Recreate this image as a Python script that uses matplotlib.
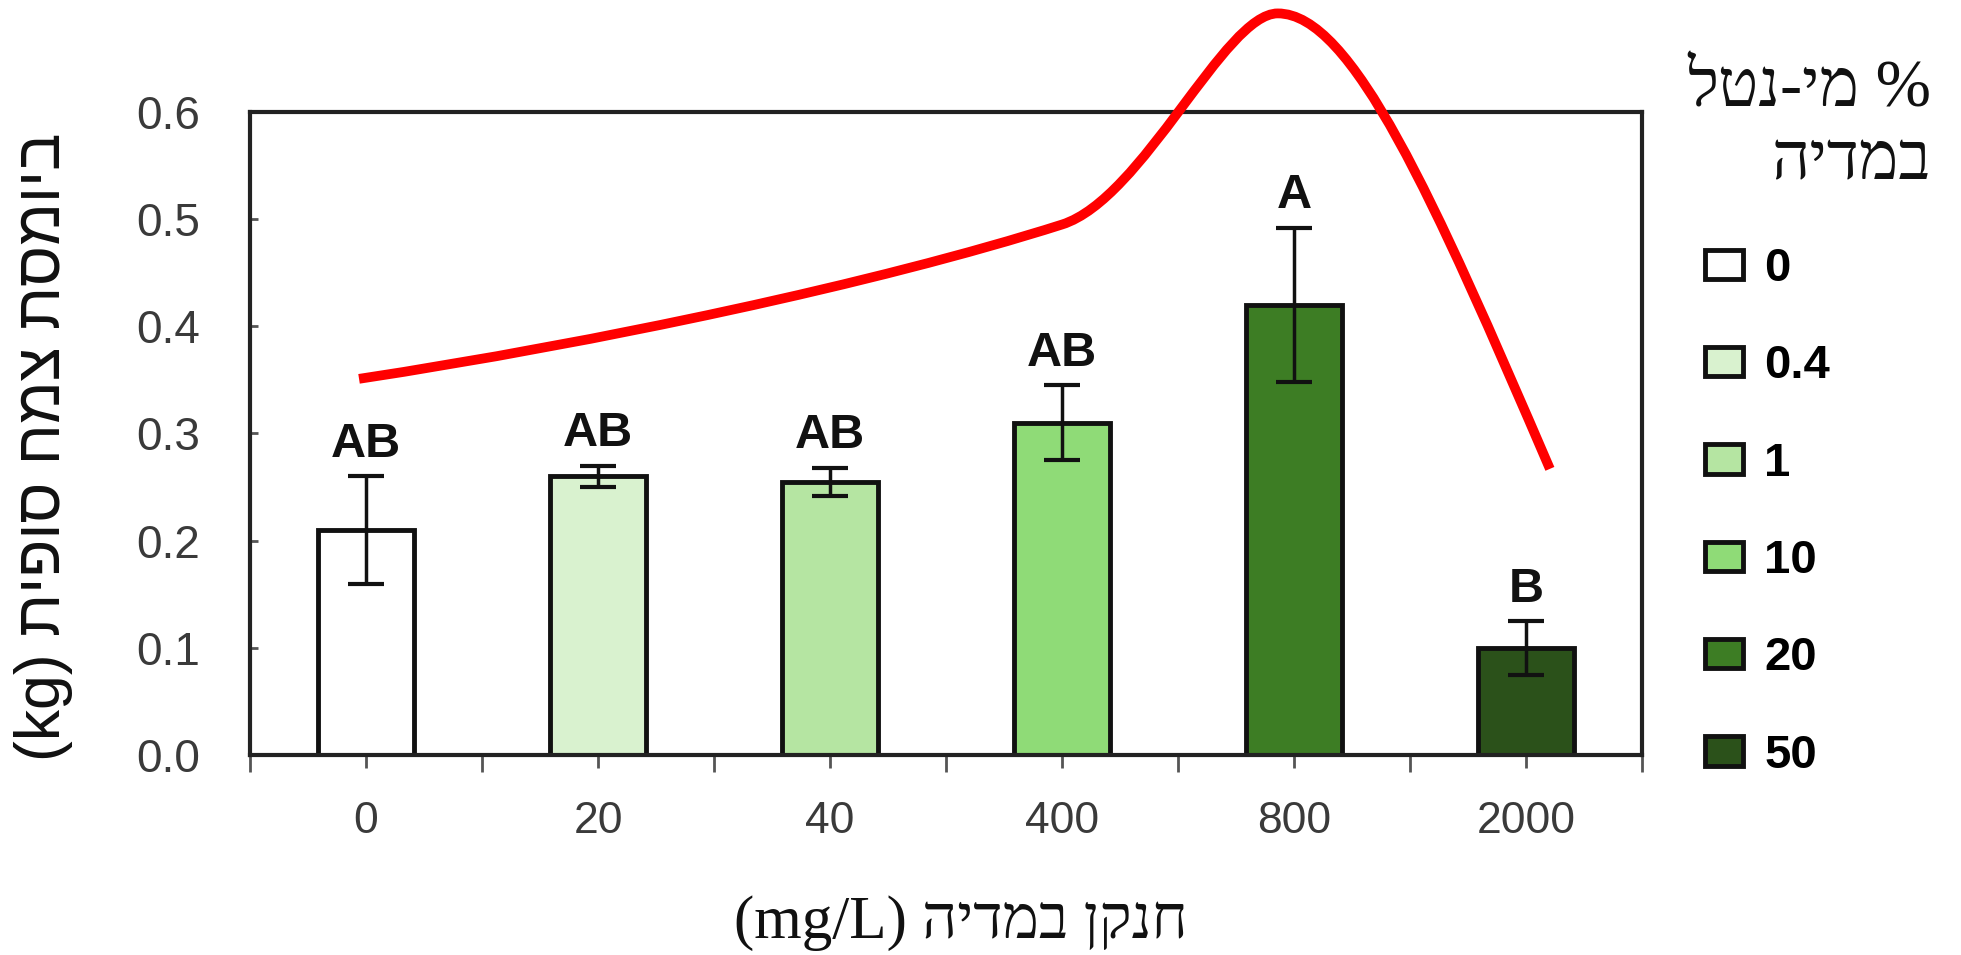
import numpy as np
import matplotlib.pyplot as plt
from matplotlib.path import Path
from matplotlib.patches import PathPatch

# data
categories = ['0', '20', '40', '400', '800', '2000']
biomass = [0.21, 0.26, 0.255, 0.31, 0.42, 0.10]
errors = [0.05, 0.01, 0.013, 0.035, 0.072, 0.025]
letters = ['AB', 'AB', 'AB', 'AB', 'A', 'B']
legend_labels = ['0', '0.4', '1', '10', '20', '50']
colors = ['#ffffff', '#d9f2cf', '#b5e5a2', '#8fdb77', '#3d7d24', '#2b511a']

# hand drawn red trend curve, as bezier control points
# (x in category units, y in kg)
curve_x = [-0.03, 1.0, 2.2, 3.0, 3.35, 3.7, 3.93, 4.25, 4.6, 5.103]
curve_y = [0.351, 0.385, 0.44, 0.495, 0.519, 0.692, 0.692, 0.692, 0.52, 0.267]

# Hebrew strings are given in visual order (matplotlib has no bidi)
ylabel = '(kg) תיפוס חמצ תסמויב'
xlabel = '(mg/L) הידמב ןקנח'
legend_title = ['לטנ-ימ %', 'הידמב']

sans = ['Liberation Sans', 'DejaVu Sans']
serif = ['Liberation Serif', 'DejaVu Serif', 'DejaVu Sans']

fig = plt.figure(figsize=(19.61, 9.55), dpi=100)
ax = fig.add_axes([250 / 1961, 1 - 755 / 955, 1392 / 1961, 643 / 955])

x = np.arange(len(categories))
for i in range(len(categories)):
    ax.bar(x[i], biomass[i], width=0.41, color=colors[i], edgecolor='#111111',
           linewidth=3.5, label=legend_labels[i], zorder=2)
ax.errorbar(x, biomass, yerr=errors, fmt='none', ecolor='#111111', elinewidth=2.5,
            capsize=13, capthick=3, zorder=3)

for i in range(len(categories)):
    ax.annotate(letters[i], (x[i], biomass[i] + errors[i]), xytext=(0, 14),
                textcoords='offset points', ha='center', va='baseline',
                fontsize=35, fontweight='bold', family=sans, color='#111111')

codes = [Path.MOVETO] + [Path.CURVE4] * (len(curve_x) - 1)
curve = PathPatch(Path(np.column_stack([curve_x, curve_y]), codes), fill=False,
                  edgecolor='#ff0000', linewidth=7, capstyle='butt',
                  transform=ax.transData, clip_on=False, zorder=5)
ax.add_patch(curve)

ax.set_xlim(-0.5, 5.5)
ax.set_ylim(0, 0.6)
ax.set_xticks(x)
ax.set_xticklabels(categories)
ax.set_xticks(np.arange(-0.5, 6, 1), minor=True)
ax.set_yticks(np.arange(0, 0.61, 0.1))
ax.set_yticklabels(['%.1f' % v for v in np.arange(0, 0.61, 0.1)])

ax.tick_params(axis='x', which='major', direction='out', length=9, width=2,
               color='#555555', labelsize=32, labelcolor='#3a3a3a', pad=24)
ax.tick_params(axis='x', which='minor', direction='out', length=12, width=2,
               color='#555555')
ax.tick_params(axis='y', direction='in', length=6, width=2, color='#555555',
               labelsize=33, labelcolor='#3a3a3a', pad=36)
for lab in ax.get_xticklabels() + ax.get_yticklabels():
    lab.set_family(sans)

for s in ax.spines.values():
    s.set_linewidth(3)
    s.set_color('#222222')

ax.set_ylabel(ylabel, fontsize=45, family=sans, color='#111111')
ax.yaxis.set_label_coords(-0.127, 0.479)
ax.set_xlabel(xlabel, fontsize=44, family=serif, color='#111111')
ax.xaxis.set_label_coords(0.511, -0.218)

fig.text(1931 / 1961, 1 - 90 / 955, legend_title[0], ha='right', va='center',
         fontsize=48, family=serif, color='#111111')
fig.text(1931 / 1961, 1 - 163 / 955, legend_title[1], ha='right', va='center',
         fontsize=48, family=serif, color='#111111')

ax.legend(loc='upper left', bbox_to_anchor=(1705 / 1961, 1 - 247 / 955),
          bbox_transform=fig.transFigure, frameon=False, borderpad=0,
          borderaxespad=0, handlelength=0.8, handleheight=0.58,
          handletextpad=0.45, labelspacing=1.13,
          prop={'family': sans, 'weight': 'bold', 'size': 34})

fig.savefig('out.png', dpi=100, facecolor='white')
